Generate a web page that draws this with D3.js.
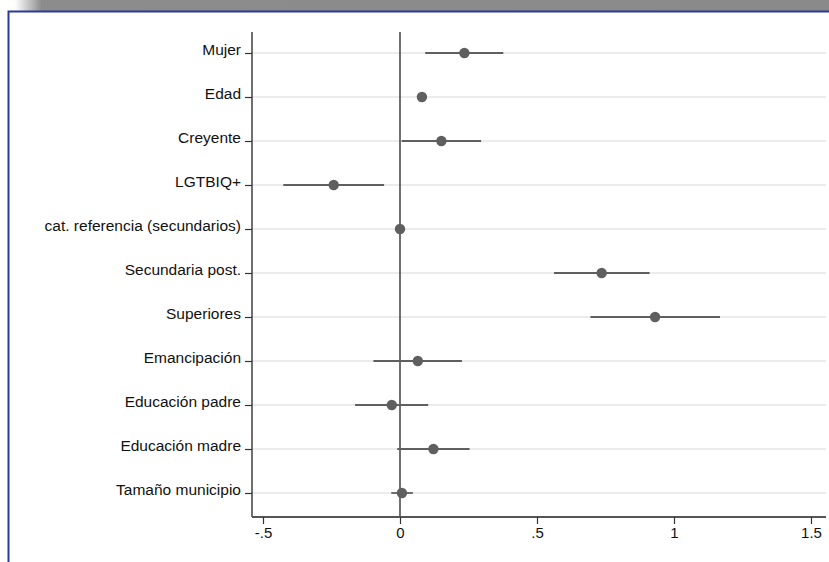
<!DOCTYPE html>
<html><head><meta charset="utf-8">
<script src="https://cdn.jsdelivr.net/npm/d3@7"></script>
<style>body{margin:0;background:#fff;}svg{display:block;font-family:"Liberation Sans",Arial,sans-serif;}</style>
</head><body><svg id="c" width="829" height="562"></svg>
<script>
const categories = ["Mujer","Edad","Creyente","LGTBIQ+","cat. referencia (secundarios)","Secundaria post.","Superiores","Emancipación","Educación padre","Educación madre","Tamaño municipio"];
const estimates = [0.235, 0.080, 0.151, -0.242, 0, 0.736, 0.931, 0.065, -0.030, 0.122, 0.007];
const ciLow  = [0.092, 0.072, 0.006, -0.426, 0, 0.562, 0.695, -0.097, -0.164, -0.010, -0.032];
const ciHigh = [0.377, 0.088, 0.296, -0.058, 0, 0.911, 1.168, 0.226, 0.103, 0.254, 0.047];
const xTicks = [-0.5, 0, 0.5, 1, 1.5];
const xTickLabels = ["-.5", "0", ".5", "1", "1.5"];

const svg = d3.select("#c");
const defs = svg.append("defs");
const g1 = defs.append("linearGradient").attr("id","hg").attr("x1","0").attr("x2","1").attr("y1","0").attr("y2","0");
g1.append("stop").attr("offset","0").attr("stop-color","#ffffff");
g1.append("stop").attr("offset","0.018").attr("stop-color","#ffffff");
g1.append("stop").attr("offset","0.05").attr("stop-color","#8c8c8c");
g1.append("stop").attr("offset","1").attr("stop-color","#8a8a8a");
svg.append("rect").attr("x",0).attr("y",0).attr("width",829).attr("height",11).attr("fill","url(#hg)");
svg.append("path").attr("d","M8.5,562 V11.5 H829").attr("fill","none").attr("stroke","#2b3a9a").attr("stroke-width",2);

const x = d3.scaleLinear().domain([-0.5, 1.5]).range([263, 811]);
const y = d3.scalePoint().domain(categories).range([53, 493]);
const plotLeft = 252, plotRight = 826, plotTop = 32, plotBottom = 517;
const FONT = "'Liberation Sans',Arial,sans-serif";

svg.append("g").selectAll("line").data(categories).join("line")
  .attr("x1", plotLeft).attr("x2", plotRight)
  .attr("y1", d => y(d)).attr("y2", d => y(d))
  .attr("stroke", "#e6e6e6").attr("stroke-width", 1.5);

svg.append("line").attr("x1", x(0)).attr("x2", x(0)).attr("y1", plotTop).attr("y2", plotBottom)
  .attr("stroke", "#333").attr("stroke-width", 1.4);

const yAxis = d3.axisLeft(y).tickSize(7).tickPadding(4);
const ya = svg.append("g").attr("transform", `translate(${plotLeft},0)`).call(yAxis);
ya.select(".domain").attr("d", `M0,${plotTop}V${plotBottom}`).attr("stroke","#333").attr("stroke-width",1.4);
ya.selectAll(".tick line").attr("stroke","#333").attr("stroke-width",1.2);
ya.selectAll(".tick text").attr("font-size", 15.5).attr("fill","#111").attr("font-family",FONT).attr("dy","0.12em");

const xAxis = d3.axisBottom(x).tickValues(xTicks).tickFormat((d,i) => xTickLabels[i]).tickSize(7).tickPadding(3);
const xa = svg.append("g").attr("transform", `translate(0,${plotBottom})`).call(xAxis);
xa.select(".domain").attr("d", `M${plotLeft},0H${plotRight}`).attr("stroke","#555").attr("stroke-width",2);
xa.selectAll(".tick line").attr("stroke","#333").attr("stroke-width",1.2);
xa.selectAll(".tick text").attr("font-size", 15).attr("fill","#111").attr("font-family",FONT);

const data = categories.map((c,i) => ({c, e: estimates[i], lo: ciLow[i], hi: ciHigh[i]}));
svg.append("g").selectAll("line").data(data).join("line")
  .attr("x1", d => x(d.lo)).attr("x2", d => x(d.hi))
  .attr("y1", d => y(d.c)).attr("y2", d => y(d.c))
  .attr("stroke", "#5f5f5f").attr("stroke-width", 1.8);
svg.append("g").selectAll("circle").data(data).join("circle")
  .attr("cx", d => x(d.e)).attr("cy", d => y(d.c)).attr("r", 5.2)
  .attr("fill", "#5f5f5f");
</script></body></html>
